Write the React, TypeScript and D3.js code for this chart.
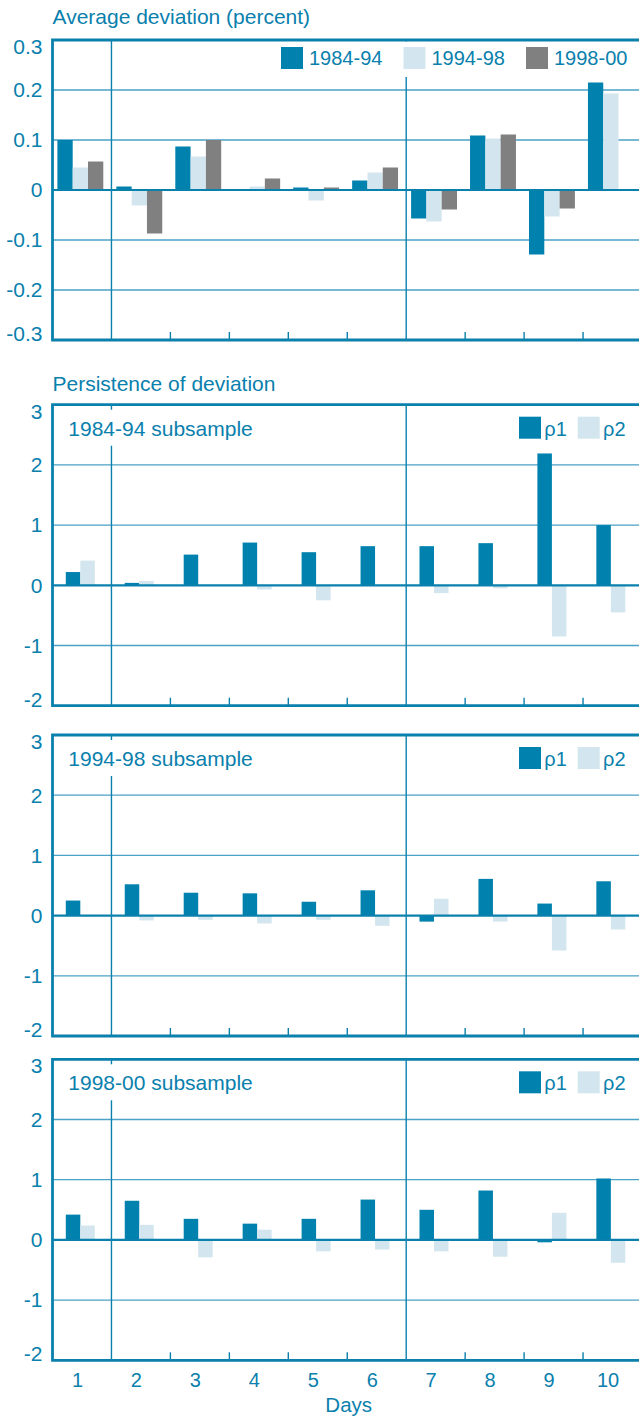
import React, { useRef, useEffect } from 'react';
import * as d3 from 'd3';

const days = ["1", "2", "3", "4", "5", "6", "7", "8", "9", "10"];

// Average deviation (percent), by subsample
const avgSeries = ["1984-94", "1994-98", "1998-00"];
const avg8494 = [0.100, 0.007, 0.087, 0.001, 0.005, 0.019, -0.057, 0.109, -0.129, 0.215];
const avg9498 = [0.045, -0.031, 0.067, 0.007, -0.021, 0.035, -0.063, 0.103, -0.053, 0.193];
const avg9800 = [0.057, -0.087, 0.100, 0.023, 0.005, 0.045, -0.039, 0.111, -0.037, 0.002];
const avgTicks = [0.3, 0.2, 0.1, 0, -0.1, -0.2, -0.3];
const avgTickLabels = ["0.3", "0.2", "0.1", "0", "-0.1", "-0.2", "-0.3"];

// Persistence of deviation
const rhoSeries = ["ρ1", "ρ2"];
const rho1_8494 = [0.22, 0.04, 0.51, 0.71, 0.55, 0.65, 0.65, 0.70, 2.19, 1.00];
const rho2_8494 = [0.41, 0.07, 0.00, -0.07, -0.25, -0.01, -0.13, -0.05, -0.85, -0.45];
const rho1_9498 = [0.25, 0.52, 0.38, 0.37, 0.23, 0.42, -0.10, 0.61, 0.20, 0.57];
const rho2_9498 = [-0.01, -0.08, -0.07, -0.13, -0.07, -0.17, 0.28, -0.10, -0.58, -0.23];
const rho1_9800 = [0.42, 0.65, 0.35, 0.27, 0.35, 0.67, 0.50, 0.82, -0.04, 1.02];
const rho2_9800 = [0.24, 0.25, -0.29, 0.17, -0.19, -0.16, -0.19, -0.28, 0.45, -0.38];
const rhoTicks = [3, 2, 1, 0, -1, -2];
const rhoTickLabels = ["3", "2", "1", "0", "-1", "-2"];
const panelNames = ["1984-94 subsample", "1994-98 subsample", "1998-00 subsample"];

const W = 639;
const H = 1416;
const left = 52.5;
const right = 642;
const blue = "#0a80ad";
const grid = "#4aa2c6";
const colors = ["#0081ae", "#d3e5ee", "#808080"];
const font = "'Liberation Sans', Arial, Helvetica, sans-serif";

const App = () => {
  const svgRef = useRef<SVGSVGElement>(null);

  useEffect(() => {
    const svg = d3.select(svgRef.current);
    svg.selectAll("*").remove();
    svg.style("font-family", font);

    const x = d3.scaleBand<string>().domain(days).range([left, right]).padding(0);
    const bw = x.bandwidth();

    // gridlines, dividers and ticks under the bars
    function grids(y: d3.ScaleLinear<number, number>, ticks: number[]) {
      const [bottom, top] = y.range();
      const g = svg.append("g");
      g.selectAll("line.grid")
        .data(ticks.filter(t => t !== 0 && y(t) > top + 1 && y(t) < bottom - 1))
        .join("line")
        .attr("x1", left).attr("x2", right)
        .attr("y1", d => y(d)).attr("y2", d => y(d))
        .attr("stroke", grid).attr("stroke-width", 1.3);
      g.selectAll("line.div")
        .data([days[1], days[6]])
        .join("line")
        .attr("x1", d => x(d)!).attr("x2", d => x(d)!)
        .attr("y1", top).attr("y2", bottom)
        .attr("stroke", blue).attr("stroke-width", 1.4);
      g.selectAll("line.tick")
        .data([2, 3, 4, 5, 7, 8, 9].map(i => days[i]))
        .join("line")
        .attr("x1", d => x(d)!).attr("x2", d => x(d)!)
        .attr("y1", bottom - 8).attr("y2", bottom)
        .attr("stroke", blue).attr("stroke-width", 1.4);
    }

    function bars(y: d3.ScaleLinear<number, number>, series: number[][], names: string[], inner: [number, number]) {
      const xi = d3.scaleBand<string>().domain(names).range(inner);
      const y0 = y(0);
      series.forEach((vals, si) => {
        svg.append("g").selectAll("rect")
          .data(vals)
          .join("rect")
          .attr("x", (d, i) => x(days[i])! + xi(names[si])!)
          .attr("width", xi.bandwidth())
          .attr("y", d => Math.min(y(d), y0))
          .attr("height", d => Math.abs(y(d) - y0))
          .attr("fill", colors[si]);
      });
    }

    function frame(y: d3.ScaleLinear<number, number>, ticks: number[], labels: string[]) {
      const [bottom, top] = y.range();
      svg.append("line")
        .attr("x1", left).attr("x2", right).attr("y1", y(0)).attr("y2", y(0))
        .attr("stroke", blue).attr("stroke-width", 2.2);
      svg.append("path")
        .attr("d", `M${right},${top}H${left}V${bottom}H${right}`)
        .attr("fill", "none").attr("stroke", blue).attr("stroke-width", 2.8);
      svg.append("g").selectAll("text")
        .data(ticks)
        .join("text")
        .attr("x", 42.5)
        .attr("y", d => Math.max(top + 6.5, Math.min(bottom - 6.5, y(d))))
        .attr("dy", "0.35em")
        .attr("text-anchor", "end")
        .attr("fill", blue)
        .style("font-size", "21px")
        .text((d, i) => labels[i]);
    }

    // Top chart: average deviation
    const yAvg = d3.scaleLinear().domain([-0.3, 0.3]).range([340, 40]);
    svg.append("text")
      .attr("x", left).attr("y", 23.5)
      .attr("fill", blue).style("font-size", "21px")
      .text("Average deviation (percent)");
    grids(yAvg, avgTicks);
    svg.append("rect").attr("x", 275).attr("y", 41.5).attr("width", 360).attr("height", 35.5).attr("fill", "white");
    bars(yAvg, [avg8494, avg9498, avg9800], avgSeries, [4.9, 50.8]);
    frame(yAvg, avgTicks, avgTickLabels);

    const legend = svg.append("g");
    avgSeries.forEach((s, i) => {
      const lx = 281 + i * 122.5;
      legend.append("rect").attr("x", lx).attr("y", 47).attr("width", 22).attr("height", 22).attr("fill", colors[i]);
      legend.append("text").attr("x", lx + 28).attr("y", 64.7)
        .attr("fill", blue).style("font-size", "20px").text(s);
    });

    // Persistence panels
    svg.append("text")
      .attr("x", left).attr("y", 390.7)
      .attr("fill", blue).style("font-size", "21px")
      .text("Persistence of deviation");

    const panelTops = [404.7, 735, 1059.3];
    const panelData = [[rho1_8494, rho2_8494], [rho1_9498, rho2_9498], [rho1_9800, rho2_9800]];
    panelTops.forEach((top, p) => {
      const y = d3.scaleLinear().domain([-2, 3]).range([top + 301, top]);
      grids(y, rhoTicks);
      svg.append("rect").attr("x", 60).attr("y", top + 5).attr("width", 210).attr("height", 36).attr("fill", "white");
      bars(y, panelData[p], rhoSeries, [13.3, 42.3]);
      frame(y, rhoTicks, rhoTickLabels);
      svg.append("text")
        .attr("x", 68.3).attr("y", top + 31)
        .attr("fill", blue).style("font-size", "21px")
        .text(panelNames[p]);
      rhoSeries.forEach((s, i) => {
        const lx = 519 + i * 58.7;
        svg.append("rect").attr("x", lx).attr("y", top + 12).attr("width", 22).attr("height", 22).attr("fill", colors[i]);
        svg.append("text").attr("x", lx + 25.3).attr("y", top + 31)
          .attr("fill", blue).style("font-size", "20px").text(s);
      });
    });

    // Days axis under the last panel
    const bottom = panelTops[2] + 301;
    svg.append("g").selectAll("text")
      .data(days)
      .join("text")
      .attr("x", d => x(d)! + bw / 2 - 4.5)
      .attr("y", bottom + 26.7)
      .attr("text-anchor", "middle")
      .attr("fill", blue)
      .style("font-size", "20px")
      .text(d => d);
    svg.append("text")
      .attr("x", 348.7).attr("y", bottom + 51.7)
      .attr("text-anchor", "middle")
      .attr("fill", blue)
      .style("font-size", "20.5px")
      .text("Days");
  }, []);

  return (
    <svg
      ref={svgRef}
      width={W}
      height={H}
      style={{ position: "absolute", left: 0, top: 0, display: "block", background: "white" }}
    />
  );
};

export default App;
